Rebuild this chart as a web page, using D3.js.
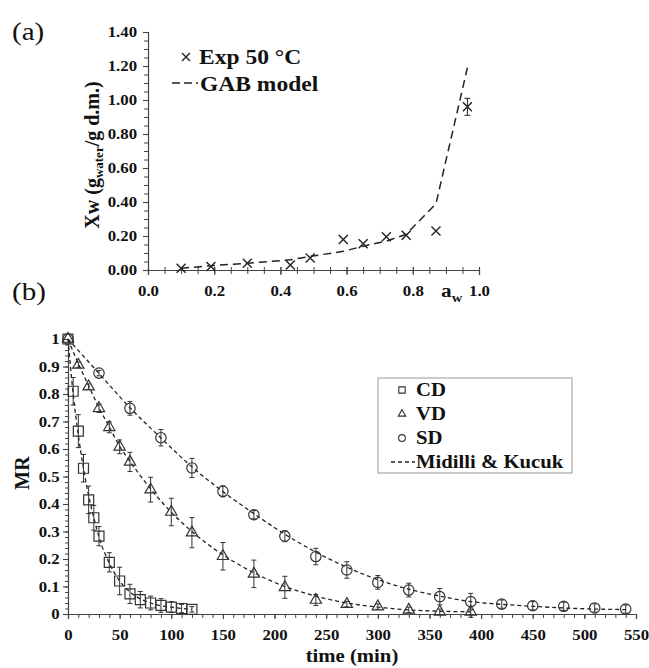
<!DOCTYPE html>
<html><head><meta charset="utf-8">
<script src="https://cdn.jsdelivr.net/npm/d3@7"></script>
<style>
body{margin:0;background:#fff}
svg text{font-family:"Liberation Serif","Times New Roman",serif;fill:#111}
</style>
</head><body>
<svg id="c" width="649" height="668"></svg>
<script>
// ---------- Panel (a): sorption isotherm ----------
const expAw  = [0.10, 0.19, 0.30, 0.43, 0.49, 0.59, 0.65, 0.72, 0.78, 0.87, 0.965];
const expXw  = [0.01, 0.02, 0.04, 0.03, 0.07, 0.18, 0.155, 0.195, 0.205, 0.23, 0.96];
const expErr = [0, 0, 0, 0, 0, 0, 0, 0, 0, 0, 0.05];
const gabAw  = [0.10, 0.19, 0.30, 0.43, 0.49, 0.59, 0.65, 0.72, 0.78, 0.87, 0.965];
const gabXw  = [0.01, 0.025, 0.04, 0.06, 0.08, 0.11, 0.14, 0.17, 0.21, 0.39, 1.19];
const aTicksX = [0, 0.2, 0.4, 0.6, 0.8, 1.0];
const aTicksY = [0, 0.2, 0.4, 0.6, 0.8, 1.0, 1.2, 1.4];

// ---------- Panel (b): drying kinetics ----------
const cdTime = [0, 5, 10, 15, 20, 25, 30, 40, 50, 60, 70, 80, 90, 100, 110, 120];
const cdMR   = [1.0, 0.81, 0.665, 0.53, 0.415, 0.35, 0.283, 0.188, 0.12, 0.073, 0.052, 0.04, 0.031, 0.025, 0.02, 0.017];
const cdErr  = [0, 0.05, 0.06, 0.05, 0.05, 0.045, 0.035, 0.035, 0.05, 0.035, 0.03, 0.025, 0.025, 0.02, 0.015, 0.01];
const cdFit  = [1.0, 0.80, 0.65, 0.53, 0.43, 0.35, 0.28, 0.185, 0.12, 0.08, 0.055, 0.04, 0.03, 0.025, 0.02, 0.017];

const vdTime = [0, 10, 20, 30, 40, 50, 60, 80, 100, 120, 150, 180, 210, 240, 270, 300, 330, 360, 390];
const vdMR   = [1.0, 0.906, 0.827, 0.748, 0.679, 0.608, 0.553, 0.452, 0.371, 0.296, 0.21, 0.146, 0.097, 0.051, 0.036, 0.027, 0.015, 0.008, 0.008];
const vdErr  = [0, 0.01, 0.01, 0.015, 0.02, 0.025, 0.035, 0.045, 0.05, 0.055, 0.05, 0.05, 0.04, 0.02, 0.01, 0.01, 0.01, 0.01, 0.02];
const vdFit  = [1.0, 0.91, 0.83, 0.75, 0.68, 0.61, 0.555, 0.455, 0.37, 0.30, 0.215, 0.15, 0.10, 0.065, 0.04, 0.025, 0.015, 0.01, 0.008];

const sdTime = [0, 30, 60, 90, 120, 150, 180, 210, 240, 270, 300, 330, 360, 390, 420, 450, 480, 510, 540];
const sdMR   = [1.0, 0.876, 0.748, 0.641, 0.531, 0.446, 0.361, 0.283, 0.209, 0.16, 0.115, 0.087, 0.063, 0.045, 0.036, 0.03, 0.028, 0.022, 0.018];
const sdErr  = [0, 0.01, 0.025, 0.03, 0.035, 0.02, 0.015, 0.02, 0.03, 0.03, 0.025, 0.025, 0.03, 0.03, 0.015, 0.015, 0.015, 0.015, 0.015];
const sdFit  = [1.0, 0.875, 0.75, 0.64, 0.535, 0.445, 0.365, 0.29, 0.225, 0.17, 0.125, 0.09, 0.065, 0.045, 0.035, 0.028, 0.022, 0.018, 0.016];

const bTicksX = [0, 50, 100, 150, 200, 250, 300, 350, 400, 450, 500, 550];
const bTicksY = [0, 0.1, 0.2, 0.3, 0.4, 0.5, 0.6, 0.7, 0.8, 0.9, 1];
const legendB = ["CD", "VD", "SD", "Midilli & Kucuk"];

// ---------- drawing ----------
const S = 1.12; // horizontal text stretch of the original figure
const ink = "#222";
const svg = d3.select("#c");
svg.append("rect").attr("width",649).attr("height",668).attr("fill","#fff");

function txt(x, y, str, size, opts = {}) {
  const t = svg.append("text")
    .attr("transform", `translate(${x},${y}) scale(${opts.noStretch?1:S},1)`)
    .attr("font-size", size)
    .attr("font-weight", opts.bold === false ? "normal" : "bold")
    .attr("text-anchor", opts.anchor || "start")
    .text(str);
  return t;
}
function styleAxis(g, fs, stretch = true) {
  g.select(".domain").attr("stroke", "#444").attr("stroke-width", 1.2);
  g.selectAll(".tick line").attr("stroke", "#444").attr("stroke-width", 1.1);
  g.selectAll(".tick text").attr("font-size", fs).attr("font-weight", "bold")
    .attr("fill", "#111").attr("font-family", '"Liberation Serif",serif');
  if (stretch) g.selectAll(".tick text").attr("transform", `scale(${S},1)`);
}
function range(a, b, step) { const r = []; for (let v = a; v <= b + 1e-9; v += step) r.push(+v.toFixed(4)); return r; }

// ===== Panel (a) =====
const ax = d3.scaleLinear().domain([0, 1]).range([148, 479]);
const ay = d3.scaleLinear().domain([0, 1.4]).range([270, 32]);

// minor ticks
svg.append("g").attr("transform", "translate(0,270)")
  .call(d3.axisBottom(ax).tickValues(range(0, 1, 0.05)).tickSize(4).tickFormat(""))
  .call(g => { g.select(".domain").remove(); g.selectAll("line").attr("stroke","#444").attr("y1",-3); });
svg.append("g").attr("transform", "translate(148,0)")
  .call(d3.axisLeft(ay).tickValues(range(0, 1.4, 0.05)).tickSize(4).tickFormat(""))
  .call(g => { g.select(".domain").remove(); g.selectAll("line").attr("stroke","#444"); });
// major axes
svg.append("g").attr("transform", "translate(0,270)")
  .call(d3.axisBottom(ax).tickValues(aTicksX).tickSize(5).tickPadding(10).tickFormat(d3.format(".1f")))
  .call(g => { styleAxis(g, 15); g.selectAll(".tick line").attr("y1", -3); });
svg.append("g").attr("transform", "translate(148,0)")
  .call(d3.axisLeft(ay).tickValues(aTicksY).tickSize(5).tickPadding(4.8).tickFormat(d3.format(".2f")))
  .call(g => styleAxis(g, 15));

// GAB model
const gabPts = gabAw.map((a, i) => [ax(a), ay(gabXw[i])]);
svg.append("path").attr("d", d3.line()(gabPts)).attr("fill", "none")
  .attr("stroke", ink).attr("stroke-width", 1.5).attr("stroke-dasharray", "8,5");
// experimental points
expAw.forEach((a, i) => {
  const x = ax(a), y = ay(expXw[i]);
  if (expErr[i] > 0) {
    const y1 = ay(expXw[i] - expErr[i]), y2 = ay(expXw[i] + expErr[i]);
    svg.append("path").attr("d", `M${x},${y1}V${y2}M${x-3},${y1}H${x+3}M${x-3},${y2}H${x+3}`)
      .attr("stroke", ink).attr("stroke-width", 1).attr("fill", "none");
  }
  svg.append("path").attr("transform", `translate(${x},${y})`)
    .attr("d", "M-4.5,-4.5L4.5,4.5M-4.5,4.5L4.5,-4.5").attr("stroke", ink).attr("stroke-width", 1.4);
});
// legend (a)
svg.append("path").attr("transform", "translate(186,57)")
  .attr("d", "M-4,-4L4,4M-4,4L4,-4").attr("stroke", ink).attr("stroke-width", 1.4);
txt(199, 64, "Exp 50 °C", 21);
svg.append("line").attr("x1", 172).attr("x2", 198).attr("y1", 83).attr("y2", 83)
  .attr("stroke", ink).attr("stroke-width", 1.5).attr("stroke-dasharray", "8,4");
txt(200, 91, "GAB model", 21);
// axis titles (a)
const yl = svg.append("text").attr("transform", "translate(99,155) rotate(-90)")
  .attr("text-anchor", "middle").attr("font-size", 20).attr("font-weight", "bold");
yl.append("tspan").text("Xw (g");
yl.append("tspan").attr("font-size", 13).attr("dy", 4).text("water");
yl.append("tspan").attr("dy", -4).text("/g d.m.)");
const xl = svg.append("text").attr("transform", `translate(441,297) scale(${S},1)`)
  .attr("font-size", 19).attr("font-weight", "bold");
xl.append("tspan").text("a");
xl.append("tspan").attr("font-size", 13).attr("dy", 5).text("w");
// panel letters
txt(12, 40, "(a)", 26, {bold: false});
txt(12, 300, "(b)", 26, {bold: false});

// ===== Panel (b) =====
const bx = d3.scaleLinear().domain([0, 550]).range([68, 636]);
const by = d3.scaleLinear().domain([0, 1]).range([614, 339]);

svg.append("g").attr("transform", "translate(0,614)")
  .call(d3.axisBottom(bx).tickValues(range(0, 550, 10)).tickSize(4).tickFormat(""))
  .call(g => { g.select(".domain").remove(); g.selectAll("line").attr("stroke","#444"); });
svg.append("g").attr("transform", "translate(68,0)")
  .call(d3.axisLeft(by).tickValues(range(0, 1, 0.02)).tickSize(3).tickFormat(""))
  .call(g => { g.select(".domain").remove(); g.selectAll("line").attr("stroke","#444"); });
svg.append("g").attr("transform", "translate(0,614)")
  .call(d3.axisBottom(bx).tickValues(bTicksX).tickSize(5).tickPadding(10))
  .call(g => styleAxis(g, 15));
svg.append("g").attr("transform", "translate(68,0)")
  .call(d3.axisLeft(by).tickValues(bTicksY).tickSize(5).tickPadding(2.5).tickFormat(d => String(d)))
  .call(g => styleAxis(g, 15));

const fitLine = d3.line().x(d => bx(d[0])).y(d => by(d[1])).curve(d3.curveMonotoneX);
const series = [
  {t: cdTime, v: cdMR, e: cdErr, f: cdFit, sym: d3.symbolSquare, size: 100},
  {t: vdTime, v: vdMR, e: vdErr, f: vdFit, sym: d3.symbolTriangle, size: 55},
  {t: sdTime, v: sdMR, e: sdErr, f: sdFit, sym: d3.symbolCircle, size: 85}
];
series.forEach(s => {
  svg.append("path").attr("d", fitLine(s.t.map((t, i) => [t, s.f[i]])))
    .attr("fill", "none").attr("stroke", ink).attr("stroke-width", 1.3).attr("stroke-dasharray", "4,3");
});
series.forEach(s => {
  s.t.forEach((t, i) => {
    if (s.e[i] > 0) {
      const x = bx(t), y1 = by(s.v[i] - s.e[i]), y2 = by(s.v[i] + s.e[i]);
      svg.append("path").attr("d", `M${x},${y1}V${y2}M${x-2.5},${y1}H${x+2.5}M${x-2.5},${y2}H${x+2.5}`)
        .attr("stroke", "#333").attr("stroke-width", 1).attr("fill", "none");
    }
  });
  s.t.forEach((t, i) => {
    svg.append("path").attr("transform", `translate(${bx(t)},${by(s.v[i])})`)
      .attr("d", d3.symbol(s.sym, s.size)()).attr("fill", "none")
      .attr("stroke", "#333").attr("stroke-width", 1.2);
  });
});

// legend (b)
svg.append("rect").attr("x", 378).attr("y", 378).attr("width", 194).attr("height", 95)
  .attr("fill", "#fff").attr("stroke", "#999").attr("stroke-width", 1);
const legSyms = [[d3.symbolSquare, 40], [d3.symbolTriangle, 24], [d3.symbolCircle, 36]];
legendB.forEach((lab, i) => {
  const y = 390 + i * 24;
  if (i < 3) {
    svg.append("path").attr("transform", `translate(402,${y})`)
      .attr("d", d3.symbol(legSyms[i][0], legSyms[i][1])()).attr("fill", "none")
      .attr("stroke", "#333").attr("stroke-width", 1.1);
  } else {
    svg.append("line").attr("x1", 391).attr("x2", 415).attr("y1", y).attr("y2", y)
      .attr("stroke", ink).attr("stroke-width", 1.3).attr("stroke-dasharray", "4,3");
  }
  txt(416, y + 6, lab, 18.5);
});

// axis titles (b)
svg.append("text").attr("transform", "translate(29,473) rotate(-90)")
  .attr("text-anchor", "middle").attr("font-size", 20).attr("font-weight", "bold").text("MR");
txt(352, 662, "time (min)", 18.5, {anchor: "middle"});
</script>
</body></html>
